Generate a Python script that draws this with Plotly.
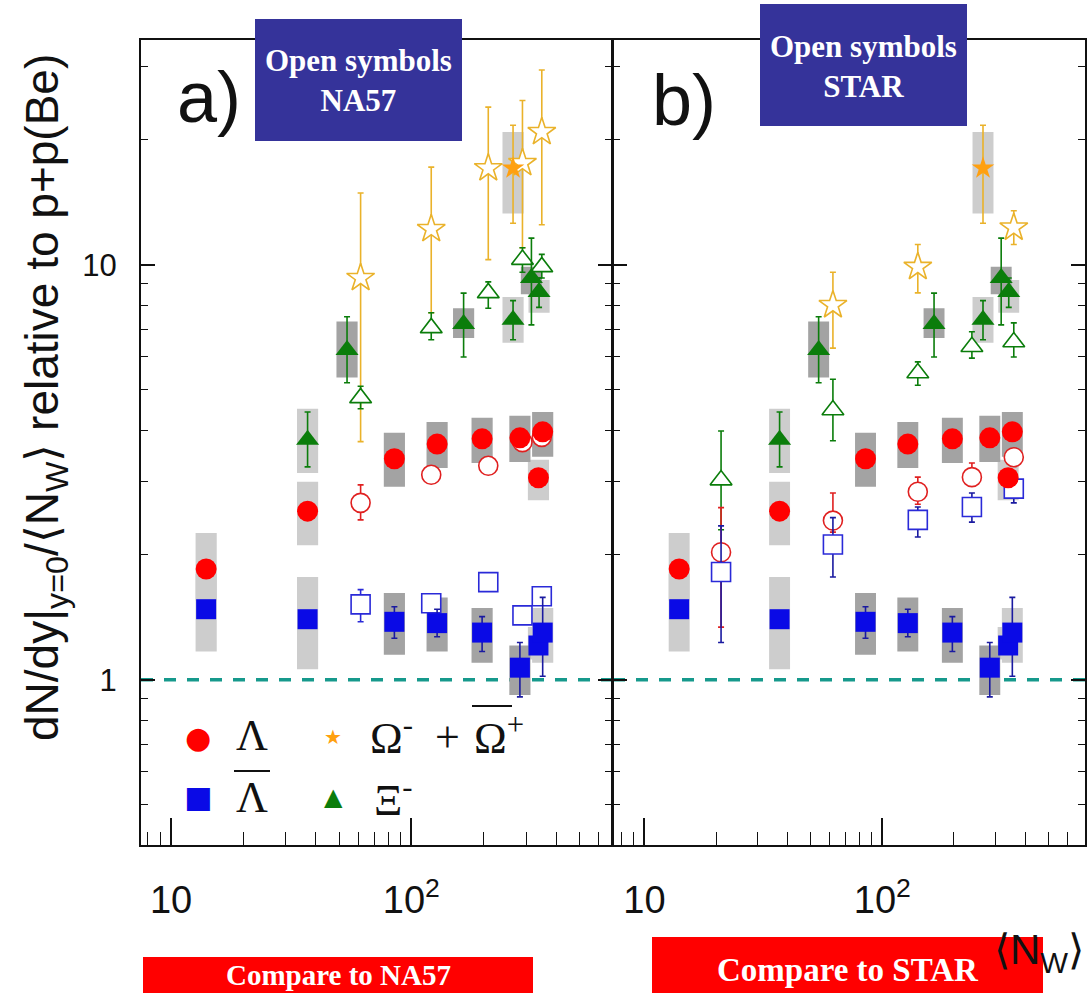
import plotly.graph_objects as go

W, H = 1091, 993

# ---------------- filled symbols (identical in both panels) ----------------
LAM_X = [14, 37, 85, 128, 197, 283, 338, 352]
LAM_Y = [1.85, 2.55, 3.41, 3.70, 3.81, 3.83, 3.07, 3.96]
LAM_SYS_LO = [1.55, 2.11, 2.92, 3.24, 3.33, 3.35, 2.71, 3.45]
LAM_SYS_HI = [2.26, 3.00, 3.94, 4.18, 4.28, 4.33, 3.39, 4.42]
LAM_SYS_DARK = [0, 0, 1, 1, 1, 1, 0, 1]

ALAM_X = [14, 37, 85, 128, 197, 283, 338, 352]
ALAM_Y = [1.48, 1.40, 1.38, 1.37, 1.30, 1.07, 1.21, 1.30]
ALAM_ERR_LO = [1.48, 1.40, 1.26, 1.27, 1.17, 0.91, 1.21, 1.02]
ALAM_ERR_HI = [1.48, 1.40, 1.50, 1.48, 1.42, 1.23, 1.21, 1.58]
ALAM_SYS_LO = [1.17, 1.06, 1.15, 1.17, 1.10, 0.92, 1.12, 1.10]
ALAM_SYS_HI = [1.80, 1.77, 1.62, 1.58, 1.49, 1.21, 1.34, 1.49]
ALAM_SYS_DARK = [0, 0, 1, 1, 1, 1, 0, 0]

XI_X = [37, 54, 165, 265, 316, 340]
XI_Y = [3.79, 6.24, 7.20, 7.38, 9.30, 8.60]
XI_ERR_LO = [3.26, 5.20, 6.00, 6.60, 7.17, 7.90]
XI_ERR_HI = [4.42, 7.50, 8.55, 8.20, 11.6, 9.30]
XI_SYS_LO = [3.15, 5.35, 6.67, 6.49, 8.50, 7.67]
XI_SYS_HI = [4.50, 7.30, 7.86, 8.37, 9.90, 9.20]
XI_SYS_DARK = [0, 1, 1, 0, 1, 0]

OM_X = [265]
OM_Y = [17.1]
OM_ERR_LO = [12.6]
OM_ERR_HI = [21.7]
OM_SYS_LO = [13.3]
OM_SYS_HI = [20.9]
OM_SYS_DARK = [0]

# ---------------- open symbols, panel a: NA57 ----------------
NA57_X = [61.5, 121, 209, 290, 349]
NA57_LAM_Y = [2.67, 3.12, 3.28, 3.74, 3.85]
NA57_LAM_LO = [2.43, 3.05, 3.22, 3.66, 3.77]
NA57_LAM_HI = [2.95, 3.19, 3.34, 3.82, 3.93]
NA57_ALAM_Y = [1.52, 1.53, 1.72, 1.43, 1.59]
NA57_ALAM_LO = [1.38, 1.49, 1.68, 1.39, 1.55]
NA57_ALAM_HI = [1.65, 1.57, 1.76, 1.47, 1.63]
NA57_XI_Y = [4.78, 7.05, 8.56, 10.3, 9.89]
NA57_XI_LO = [4.50, 6.60, 7.86, 9.60, 9.30]
NA57_XI_HI = [5.10, 7.67, 9.10, 11.0, 10.6]
NA57_OM_Y = [9.3, 12.2, 17.1, 17.6, 20.9]
NA57_OM_LO = [3.75, 7.67, 10.3, 11.0, 12.5]
NA57_OM_HI = [14.9, 17.2, 24.0, 24.9, 29.5]

# ---------------- open symbols, panel b: STAR ----------------
STAR_X = [21, 62, 141, 238, 357]
STAR_LAM_Y = [2.03, 2.42, 2.84, 3.08, 3.44]
STAR_LAM_LO = [1.34, 2.27, 2.65, 2.95, 3.35]
STAR_LAM_HI = [2.60, 2.82, 3.08, 3.33, 3.53]
STAR_ALAM_Y = [1.82, 2.12, 2.43, 2.61, 2.89]
STAR_ALAM_LO = [1.23, 1.77, 2.21, 2.40, 2.67]
STAR_ALAM_HI = [2.35, 2.46, 2.61, 2.82, 3.05]
STAR_XI_Y = [3.03, 4.47, 5.49, 6.35, 6.52]
STAR_XI_LO = [2.30, 3.77, 5.13, 5.96, 6.00]
STAR_XI_HI = [3.98, 5.30, 5.84, 6.90, 7.25]
STAR_OM_X = [62, 141, 357]
STAR_OM_Y = [8.0, 9.89, 12.3]
STAR_OM_LO = [6.3, 8.56, 11.2]
STAR_OM_HI = [9.6, 11.2, 13.5]

REF_LEVEL = 1.0
X_MAJOR = [10, 100]
X_MAJOR_TEXT = ["10", "10<sup>2</sup>"]
X_MINOR = [8, 9, 20, 30, 40, 50, 60, 70, 80, 90, 200, 300, 400, 500, 600]
Y_MAJOR = [1, 10]
Y_MAJOR_TEXT = ["1", "10"]
Y_MINOR = [0.4, 0.5, 0.6, 0.7, 0.8, 0.9, 2, 3, 4, 5, 6, 7, 8, 9, 20, 30]

# ---------------- styling ----------------
RED = "#ff0000"
BLUE = "#0a0ae6"
GREEN = "#0b7d0b"
ORANGE = "#ffa010"
GOLD = "#eab22a"
LIGHT_GRAY = "#cdcdcd"
DARK_GRAY = "#a3a3a3"
BOX_HALF = 10 ** 0.044
SERIF = "Liberation Serif"
SANS = "Liberation Sans"

fig = go.Figure()


def boxes(xs, lo, hi, dark, xa, ya):
    for want, col in ((0, LIGHT_GRAY), (1, DARK_GRAY)):
        px_, py_ = [], []
        for x, l, h, d in zip(xs, lo, hi, dark):
            if d != want:
                continue
            px_ += [x / BOX_HALF, x * BOX_HALF, x * BOX_HALF, x / BOX_HALF, x / BOX_HALF, None]
            py_ += [l, l, h, h, l, None]
        if px_:
            fig.add_trace(go.Scatter(x=px_, y=py_, mode="lines", fill="toself",
                                     fillcolor=col, line=dict(width=0),
                                     xaxis=xa, yaxis=ya, hoverinfo="skip",
                                     showlegend=False))


def points(xs, ys, lo, hi, symbol, size, fill, edge, lw, ecol, xa, ya):
    err = None
    if lo is not None:
        err = dict(type="data", symmetric=False,
                   array=[h - y for h, y in zip(hi, ys)],
                   arrayminus=[y - l for l, y in zip(lo, ys)],
                   color=ecol, thickness=1.6, width=3)
    fig.add_trace(go.Scatter(x=xs, y=ys, mode="markers", error_y=err,
                             marker=dict(symbol=symbol, size=size, color=fill,
                                         line=dict(color=edge, width=lw)),
                             xaxis=xa, yaxis=ya, showlegend=False))


for xa, ya in (("x", "y"), ("x2", "y2")):
    boxes(LAM_X, LAM_SYS_LO, LAM_SYS_HI, LAM_SYS_DARK, xa, ya)
    boxes(ALAM_X, ALAM_SYS_LO, ALAM_SYS_HI, ALAM_SYS_DARK, xa, ya)
    boxes(XI_X, XI_SYS_LO, XI_SYS_HI, XI_SYS_DARK, xa, ya)
    boxes(OM_X, OM_SYS_LO, OM_SYS_HI, OM_SYS_DARK, xa, ya)

# open symbols (drawn beneath the filled ones)
points(NA57_X, NA57_OM_Y, NA57_OM_LO, NA57_OM_HI, "star", 21, "white", GOLD, 1.6, GOLD, "x", "y")
points(NA57_X, NA57_XI_Y, NA57_XI_LO, NA57_XI_HI, "triangle-up", 19, "white", GREEN, 1.6, GREEN, "x", "y")
points(NA57_X, NA57_LAM_Y, NA57_LAM_LO, NA57_LAM_HI, "circle", 19, "white", "#e02020", 1.6, "#e02020", "x", "y")
points(NA57_X, NA57_ALAM_Y, NA57_ALAM_LO, NA57_ALAM_HI, "square", 19, "white", "#2a2ad8", 1.6, "#2a2ad8", "x", "y")

points(STAR_OM_X, STAR_OM_Y, STAR_OM_LO, STAR_OM_HI, "star", 21, "white", GOLD, 1.6, GOLD, "x2", "y2")
points(STAR_X, STAR_XI_Y, STAR_XI_LO, STAR_XI_HI, "triangle-up", 19, "white", GREEN, 1.6, GREEN, "x2", "y2")
points(STAR_X, STAR_LAM_Y, STAR_LAM_LO, STAR_LAM_HI, "circle", 19, "white", "#e02020", 1.6, "#e02020", "x2", "y2")
points(STAR_X, STAR_ALAM_Y, STAR_ALAM_LO, STAR_ALAM_HI, "square", 19, "white", "#2a2ad8", 1.6, "#1a1aa0", "x2", "y2")

for xa, ya in (("x", "y"), ("x2", "y2")):
    points(XI_X, XI_Y, XI_ERR_LO, XI_ERR_HI, "triangle-up", 20, GREEN, GREEN, 0, GREEN, xa, ya)
    points(OM_X, OM_Y, OM_ERR_LO, OM_ERR_HI, "star", 17, ORANGE, ORANGE, 0, GOLD, xa, ya)
    points(LAM_X, LAM_Y, None, None, "circle", 21, RED, RED, 0, RED, xa, ya)
    points(ALAM_X, ALAM_Y, ALAM_ERR_LO, ALAM_ERR_HI, "square", 20, BLUE, BLUE, 0, "#1a1aa0", xa, ya)

# ---------------- axes ----------------
X_DOM_A = [141 / W, 612 / W]
X_DOM_B = [613 / W, 1085 / W]
Y_DOM = [1 - 845 / H, 1 - 40 / H]

xcommon = dict(type="log", showgrid=False, zeroline=False, showline=True,
               linecolor="#111", linewidth=2, mirror=True,
               ticks="inside", ticklen=27, tickwidth=1.5, tickcolor="#111",
               tickvals=X_MAJOR, ticktext=X_MAJOR_TEXT,
               tickfont=dict(family=SANS, size=38, color="#111"),
               ticklabelstandoff=20,
               minor=dict(ticks="inside", ticklen=13, tickwidth=1.3,
                          tickcolor="#111", tickvals=X_MINOR, showgrid=False))
ycommon = dict(type="log", showgrid=False, zeroline=False, showline=True,
               linecolor="#111", linewidth=2, mirror="ticks",
               ticks="inside", ticklen=14, tickwidth=1.5, tickcolor="#111",
               tickvals=Y_MAJOR, ticktext=Y_MAJOR_TEXT,
               range=[-0.398, 1.542], domain=Y_DOM,
               tickfont=dict(family=SANS, size=31, color="#111"),
               minor=dict(ticks="inside", ticklen=7, tickwidth=1.2,
                          tickcolor="#111", tickvals=Y_MINOR, showgrid=False))

fig.update_layout(
    xaxis=dict(xcommon, domain=X_DOM_A, range=[0.875, 2.835], anchor="y"),
    xaxis2=dict(xcommon, domain=X_DOM_B, range=[0.868, 2.852], anchor="y2"),
    yaxis=dict(ycommon, anchor="x", ticklabelstandoff=16),
    yaxis2=dict(ycommon, anchor="x2", matches="y", showticklabels=False),
    width=W, height=H, margin=dict(l=0, r=0, t=0, b=0),
    plot_bgcolor="white", paper_bgcolor="white", showlegend=False,
)

# reference line at 1
for xr, yr in (("x domain", "y"), ("x2 domain", "y2")):
    fig.add_shape(type="line", xref=xr, yref=yr, x0=0, x1=1, y0=REF_LEVEL, y1=REF_LEVEL,
                  line=dict(color="#16998c", width=3.5, dash="12px,11px"), layer="below")


def P(x, y):
    return x / W, 1 - y / H


def ann(x, y, text, size, color="#111", family=SANS, xanchor="center",
        yanchor="middle", angle=0):
    px_, py_ = P(x, y)
    fig.add_annotation(x=px_, y=py_, xref="paper", yref="paper", text=text,
                       showarrow=False, xanchor=xanchor, yanchor=yanchor,
                       textangle=angle, font=dict(family=family, size=size, color=color))


def rect(x0, y0, x1, y1, color):
    a0, b0 = P(x0, y1)
    a1, b1 = P(x1, y0)
    fig.add_shape(type="rect", xref="paper", yref="paper", x0=a0, y0=b0,
                  x1=a1, y1=b1, fillcolor=color, line=dict(width=0), layer="above")


def hline(x0, x1, y, width=2):
    a0, b = P(x0, y)
    a1, _ = P(x1, y)
    fig.add_shape(type="line", xref="paper", yref="paper", x0=a0, x1=a1, y0=b, y1=b,
                  line=dict(color="#111", width=width))


# panel labels
ann(209, 97, "a)", 72)
ann(684, 100, "b)", 72)

# axis titles
ann(45, 398, "dN/dy|<sub>y=0</sub>/⟨N<sub>W</sub>⟩ relative to p+p(Be)", 46, angle=-90)
ann(1086, 952, "⟨N<sub>W</sub>⟩", 42, xanchor="right")

# blue boxes
rect(255, 19, 462, 141, "#35339a")
ann(358, 81, "<b>Open symbols<br>NA57</b>", 31, color="white", family=SERIF)
rect(760, 4, 967, 126, "#35339a")
ann(863, 66, "<b>Open symbols<br>STAR</b>", 31, color="white", family=SERIF)

# red boxes
rect(143, 957, 533, 1000, "#ff0000")
ann(338, 975, "<b>Compare to NA57</b>", 29, color="white", family=SERIF)
rect(652, 937, 1043, 1000, "#ff0000")
ann(848, 970, "<b>Compare to STAR</b>", 33, color="white", family=SERIF)

# legend
ann(198, 737, "●", 30, color=RED, family="DejaVu Sans")
ann(252, 735, "Λ", 44, family=SERIF)
ann(198, 796, "■", 30, color=BLUE, family="DejaVu Sans")
ann(252, 797, "Λ", 44, family=SERIF)
hline(234, 270, 771)
ann(333, 737, "★", 20, color=ORANGE, family="DejaVu Sans")
ann(368, 735, "Ω<sup>-</sup>", 44, family=SERIF, xanchor="left")
ann(447, 737, "+", 44, family=SERIF)
ann(472, 735, "Ω<sup>+</sup>", 44, family=SERIF, xanchor="left")
hline(472, 512, 706)
ann(333, 797, "▲", 24, color=GREEN, family="DejaVu Sans")
ann(372, 797, "Ξ<sup>-</sup>", 44, family=SERIF, xanchor="left")

fig.write_html("out.html")
